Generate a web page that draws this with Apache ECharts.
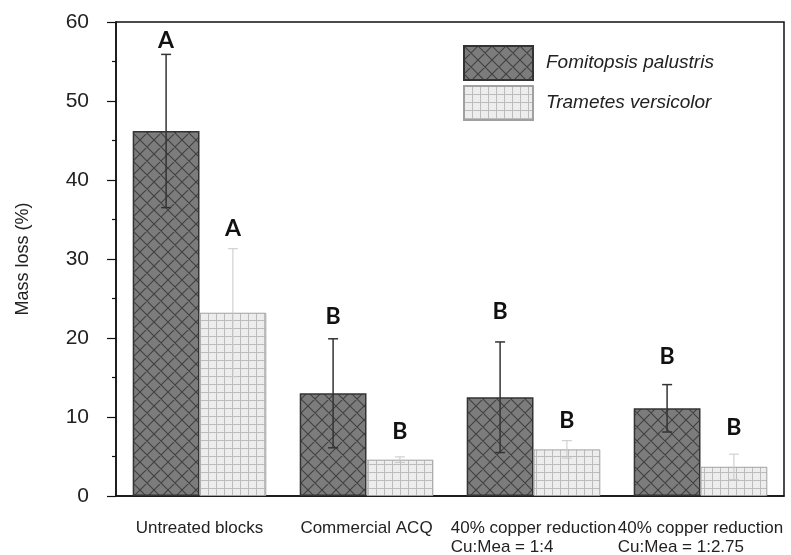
<!DOCTYPE html>
<html>
<head>
<meta charset="utf-8">
<script src="https://cdn.jsdelivr.net/npm/echarts@6/dist/echarts.min.js"></script>
<style>html,body{margin:0;padding:0;background:#fff}#c{width:791px;height:555px}</style>
</head>
<body>
<div id="c"></div>
<script>
const categories = ['Untreated blocks', 'Commercial ACQ', '40% copper reduction\nCu:Mea = 1:4', '40% copper reduction\nCu:Mea = 1:2.75'];
const seriesNames = ['Fomitopsis palustris', 'Trametes versicolor'];
const fpMean = [46.2, 13.0, 12.5, 11.1];
const fpErr = [9.7, 6.9, 7.0, 3.0];
const tvMean = [23.2, 4.6, 5.9, 3.7];
const tvErr = [8.1, 0.35, 1.1, 1.6];
const fpLetters = ['A', 'B', 'B', 'B'];
const fpLetterY = [57.6, 22.7, 23.4, 17.7];
const tvLetters = ['A', 'B', 'B', 'B'];
const tvLetterY = [33.8, 8.1, 9.6, 8.6];
const yTicks = [0, 10, 20, 30, 40, 50, 60];

const FONT = 'Liberation Sans';

function crossPattern() {
  const s = 14;
  const c = document.createElement('canvas');
  c.width = s; c.height = s;
  const g = c.getContext('2d');
  g.fillStyle = '#7c7c7c';
  g.fillRect(0, 0, s, s);
  g.strokeStyle = '#404040';
  g.lineWidth = 1.1;
  g.beginPath();
  for (const o of [-s, 0, s]) {
    g.moveTo(o - 1, -1); g.lineTo(o + s + 1, s + 1);
    g.moveTo(o + s + 1, -1); g.lineTo(o - 1, s + 1);
  }
  g.stroke();
  return c;
}
function gridPattern() {
  const s = 8;
  const c = document.createElement('canvas');
  c.width = s; c.height = s;
  const g = c.getContext('2d');
  g.fillStyle = '#ededed';
  g.fillRect(0, 0, s, s);
  g.strokeStyle = '#bcbcbc';
  g.lineWidth = 1;
  g.beginPath();
  g.moveTo(0.5, 0); g.lineTo(0.5, s);
  g.moveTo(0, 0.5); g.lineTo(s, 0.5);
  g.stroke();
  return c;
}

function errRender(side, means, errs, color, width) {
  return function (params, api) {
    const i = api.value(0);
    const m = means[params.dataIndex], e = errs[params.dataIndex];
    const band = api.size([1, 0])[0];
    const cx = api.coord([i, 0])[0] + side * band * 0.2;
    const top = api.coord([i, m + e])[1];
    const bot = api.coord([i, m - e])[1];
    const cap = 5;
    const st = { stroke: color, lineWidth: width };
    return {
      type: 'group',
      children: [
        { type: 'line', shape: { x1: cx, y1: top, x2: cx, y2: bot }, style: st },
        { type: 'line', shape: { x1: cx - cap, y1: top, x2: cx + cap, y2: top }, style: st },
        { type: 'line', shape: { x1: cx - cap, y1: bot, x2: cx + cap, y2: bot }, style: st }
      ]
    };
  };
}
function letterRender(side, letters, ys) {
  return function (params, api) {
    const i = api.value(0);
    const band = api.size([1, 0])[0];
    const cx = api.coord([i, 0])[0] + side * band * 0.2;
    const cy = api.coord([i, ys[params.dataIndex]])[1];
    return {
      type: 'text',
      x: cx, y: cy,
      style: {
        text: letters[params.dataIndex],
        fontFamily: 'Lato', fontWeight: 'bold', fontSize: 23,
        fill: '#111', align: 'center', verticalAlign: 'middle'
      }
    };
  };
}

const chart = echarts.init(document.getElementById('c'), null, { renderer: 'canvas' });
chart.setOption({
  animation: false,
  backgroundColor: '#fff',
  grid: { left: 116, right: 7, top: 22, bottom: 59, show: true, borderColor: '#111', borderWidth: 1.5, containLabel: false, outerBoundsMode: 'none' },
  legend: {
    data: seriesNames,
    orient: 'vertical',
    left: 463, top: 45,
    padding: 0,
    itemWidth: 69, itemHeight: 34, itemGap: 4,
    icon: 'rect',
    textStyle: { fontFamily: FONT, fontSize: 19, fontStyle: 'italic', color: '#222', padding: [0, 0, 0, 8] }
  },
  xAxis: {
    type: 'category',
    data: categories,
    axisLine: { lineStyle: { color: '#111', width: 1.5 } },
    axisTick: { alignWithLabel: true, length: 8, lineStyle: { color: '#111', width: 1.2 } },
    axisLabel: {
      margin: 23,
      interval: 0,
      hideOverlap: false,
      formatter: v => v.split('\n').map(s => '{a|' + s + '}').join('\n'),
      rich: { a: { fontFamily: FONT, fontSize: 17, lineHeight: 19, align: 'left', color: '#222' } }
    },
    splitLine: { show: false }
  },
  yAxis: {
    type: 'value',
    min: yTicks[0], max: yTicks[yTicks.length - 1], interval: yTicks[1] - yTicks[0],
    name: 'Mass loss (%)',
    nameLocation: 'middle',
    nameRotate: 90,
    nameGap: 84,
    nameTextStyle: { fontFamily: FONT, fontSize: 18, color: '#222' },
    axisLine: { show: true, lineStyle: { color: '#111', width: 1.5 } },
    axisTick: { show: true, length: 9, lineStyle: { color: '#111', width: 1.2 } },
    minorTick: { show: true, splitNumber: 2, length: 4, lineStyle: { color: '#111', width: 1.2 } },
    axisLabel: { margin: 27, fontFamily: FONT, fontSize: 21, color: '#222' },
    splitLine: { show: false }
  },
  series: [
    {
      name: seriesNames[0], type: 'bar', data: fpMean,
      barGap: '0%', barCategoryGap: '20%',
      itemStyle: { color: { image: crossPattern(), repeat: 'repeat' }, borderColor: '#333', borderWidth: 1.5 }
    },
    {
      name: seriesNames[1], type: 'bar', data: tvMean,
      barGap: '0%', barCategoryGap: '20%',
      itemStyle: { color: { image: gridPattern(), repeat: 'repeat' }, borderColor: '#a0a0a0', borderWidth: 1 }
    },
    {
      type: 'custom', z: 5, silent: true,
      data: fpMean.map((v, i) => [i, v]),
      renderItem: errRender(-1, fpMean, fpErr, '#333', 1.5)
    },
    {
      type: 'custom', z: 5, silent: true,
      data: tvMean.map((v, i) => [i, v]),
      renderItem: errRender(1, tvMean, tvErr, '#c8c8c8', 1)
    },
    {
      type: 'custom', z: 6, silent: true,
      data: fpLetterY.map((v, i) => [i, v]),
      renderItem: letterRender(-1, fpLetters, fpLetterY)
    },
    {
      type: 'custom', z: 6, silent: true,
      data: tvLetterY.map((v, i) => [i, v]),
      renderItem: letterRender(1, tvLetters, tvLetterY)
    }
  ]
});
</script>
</body>
</html>
